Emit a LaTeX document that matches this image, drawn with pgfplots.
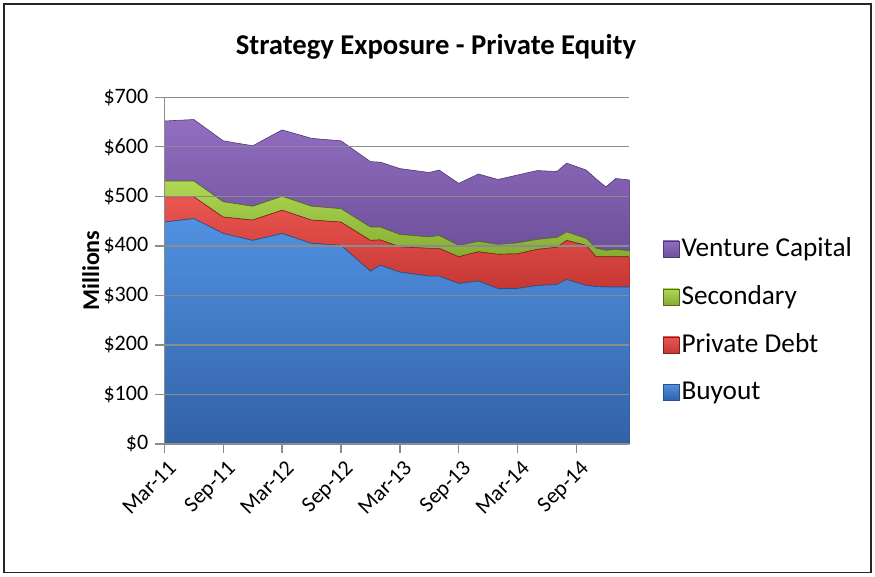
\documentclass[border=0pt]{standalone}
\usepackage{pgfplots}
\usepackage{pgfplotstable}
\pgfplotsset{compat=1.18}
\usepackage{fontspec}
\setmainfont{Carlito}

\definecolor{buyTop}{RGB}{80,145,225}
\definecolor{buyBot}{RGB}{50,98,166}
\definecolor{buyEdge}{RGB}{40,80,140}
\definecolor{debtTop}{RGB}{235,86,80}
\definecolor{debtBot}{RGB}{198,56,52}
\definecolor{debtEdge}{RGB}{130,30,28}
\definecolor{secTop}{RGB}{176,216,84}
\definecolor{secBot}{RGB}{132,172,50}
\definecolor{secEdge}{RGB}{80,110,30}
\definecolor{vcTop}{RGB}{146,110,192}
\definecolor{vcBot}{RGB}{110,80,156}
\definecolor{vcEdge}{RGB}{80,55,115}
\definecolor{gridgray}{RGB}{140,140,140}

% month index from Mar-11; buyout, private debt, secondary, venture capital ($M)
\pgfplotstableread{
m    buy  debt sec vc
0    448  51   32  121
3    455  44   32  124
6    425  33   31  123
9    411  41   28  122
12   425  47   28  134
15   405  47   28  137
18   401  47   27  137
21   349  62   27  132
22   361  51   26  131
24   347  51   25  133
27   339  56   23  130
28   339  56   26  132
30   324  54   23  125
32   329  59   21  136
34   314  69   20  131
36   314  70   22  137
38   320  73   20  139
40   322  75   20  133
41   332  79   17  139
43   320  81   14  138
44   318  60   17  140
45   317  61   13  128
46   317  61   15  143
47.4 317  61   12  143
}\exposure

\begin{document}
\begin{tikzpicture}
\useasboundingbox (-82pt,-66pt) rectangle (354.5pt,221.5pt);
\draw[black!85, line width=0.8pt] (-80pt,-64pt) rectangle (352.5pt,219.5pt);
\begin{axis}[
    at={(0,0)}, anchor=south west,
    scale only axis,
    width=232pt, height=173pt,
    stack plots=y,
    area style,
    xmin=0, xmax=47.4,
    ymin=0, ymax=700,
    ytick={0,100,...,700},
    xtick={0,6,...,42},
    xticklabels={Mar-11,Sep-11,Mar-12,Sep-12,Mar-13,Sep-13,Mar-14,Sep-14},
    /pgf/number format/assume math mode=true,
    yticklabel={\$\pgfmathprintnumber{\tick}},
    axis x line*=bottom, axis y line*=left,
    axis line style={gridgray, line width=0.7pt, -},
    tick align=outside,
    major tick length=4.5pt,
    tick style={gridgray, line width=0.7pt},
    ymajorgrids,
    grid style={gridgray, line width=0.7pt},
    yticklabel style={font=\fontsize{11}{12}\selectfont, xshift=0pt},
    xticklabel style={font=\fontsize{11}{12}\selectfont, rotate=45, anchor=north east, inner sep=1pt, yshift=-2pt},
    ylabel={Millions},
    ylabel style={font=\bfseries\fontsize{12}{14}\selectfont, at={(-0.158,0.5)}, anchor=center},
    title={Strategy Exposure - Private Equity},
    title style={font=\bfseries\fontsize{14.3}{17}\selectfont, at={(0.584,1.11)}, anchor=center},
    reverse legend,
    legend cell align=left,
    legend style={draw=none, fill=none, at={(1.071,0.601)}, anchor=north west,
        font=\fontsize{13.6}{16}\selectfont, row sep=11pt, inner sep=0pt,
        nodes={inner sep=1pt}},
    legend image code/.code={\fill[#1] (0pt,-4pt) rectangle (8pt,4pt);},
]
\addplot[top color=buyTop, bottom color=buyBot, draw=buyEdge, line width=0.3pt]
    table[x=m, y=buy] {\exposure} \closedcycle;
\addplot[top color=debtTop, bottom color=debtBot, draw=debtEdge, line width=0.3pt]
    table[x=m, y=debt] {\exposure} \closedcycle;
\addplot[top color=secTop, bottom color=secBot, draw=secEdge, line width=0.3pt]
    table[x=m, y=sec] {\exposure} \closedcycle;
\addplot[top color=vcTop, bottom color=vcBot, draw=vcEdge, line width=0.3pt]
    table[x=m, y=vc] {\exposure} \closedcycle;
\legend{Buyout, Private Debt, Secondary, Venture Capital}
\end{axis}
\end{tikzpicture}
\end{document}
